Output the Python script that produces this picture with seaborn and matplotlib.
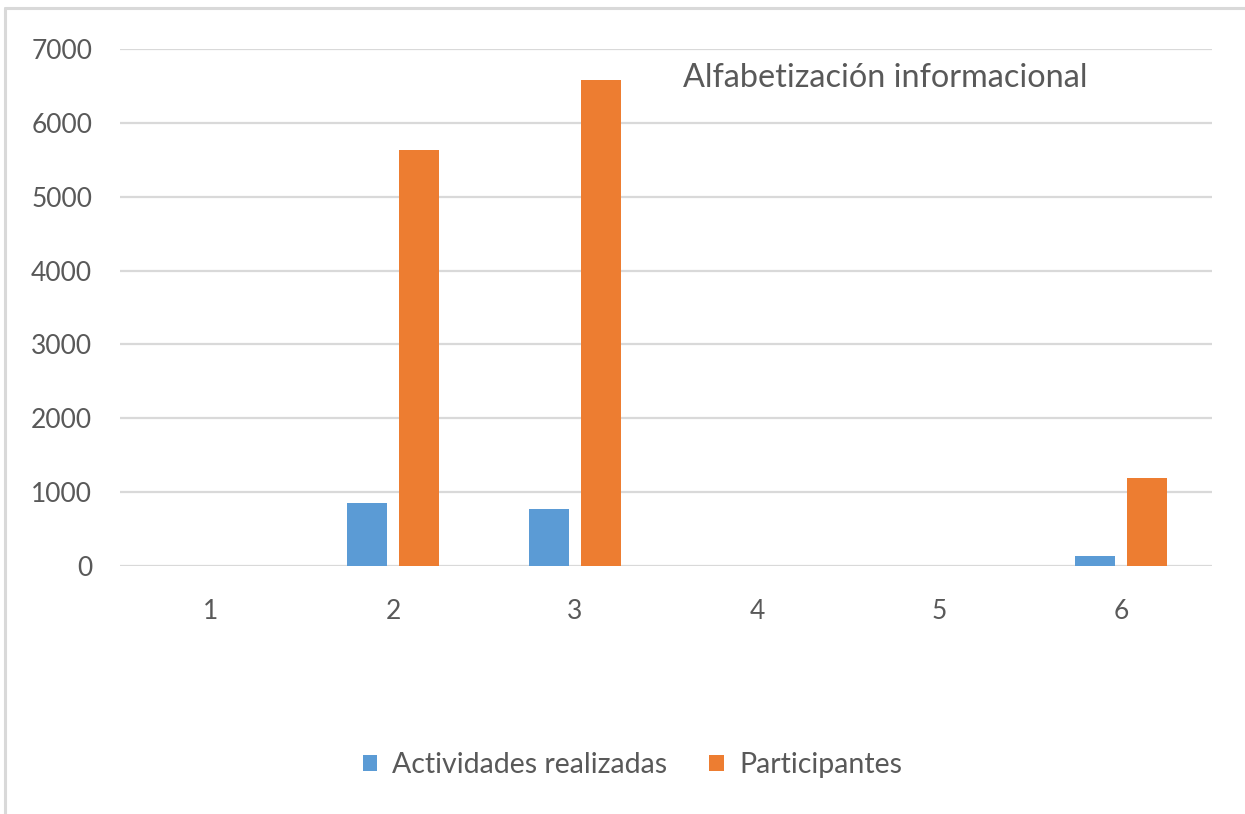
import matplotlib
matplotlib.use("Agg")
import matplotlib.pyplot as plt
from matplotlib.lines import Line2D
import seaborn as sns
import pandas as pd

categories = ["1", "2", "3", "4", "5", "6"]
actividades = [0, 849, 772, 0, 0, 140]
participantes = [0, 5632, 6584, 0, 0, 1187]
series_names = ["Actividades realizadas", "Participantes"]
yticks = [0, 1000, 2000, 3000, 4000, 5000, 6000, 7000]
title = "Alfabetización informacional"

df = pd.DataFrame({
    "cat": categories * 2,
    "val": actividades + participantes,
    "serie": [series_names[0]] * 6 + [series_names[1]] * 6,
})

sns.set_theme(style="white")
plt.rcParams["font.family"] = ["Lato", "DejaVu Sans"]

fig = plt.figure(figsize=(12.45, 8.14), dpi=100)
ax = fig.add_axes([120 / 1245, 1 - 566 / 814, (1212 - 120) / 1245, (566 - 49) / 814])

sns.barplot(data=df, x="cat", y="val", hue="serie", order=categories,
            hue_order=series_names, palette=["#5B9BD5", "#ED7D31"],
            width=0.57, gap=0.23, ax=ax, legend=True, saturation=1,
            edgecolor="none")

ax.set_xlim(-0.5, 5.5)
ax.set_ylim(0, 7000)
ax.set_yticks(yticks)
ax.set_yticklabels([str(t) for t in yticks])
ax.yaxis.grid(True, color="#d9d9d9", linewidth=1.6)
ax.set_axisbelow(True)
for s in ax.spines.values():
    s.set_visible(False)
ax.set_xlabel("")
ax.set_ylabel("")
ax.tick_params(axis="both", length=0, labelsize=19, labelcolor="#595959")
ax.tick_params(axis="x", pad=24)
ax.tick_params(axis="y", pad=20)

ax.text(0.516, 0.943, title, transform=ax.transAxes, fontsize=23.3,
        color="#595959", ha="left", va="center")

handles, labels = ax.get_legend_handles_labels()
ax.legend_.remove()
fig.legend(handles, labels, loc="center", bbox_to_anchor=(0.508, 1 - 765 / 814),
           ncol=2, frameon=False, fontsize=20.5, labelcolor="#595959",
           handlelength=0.5, handleheight=0.5, handletextpad=0.55,
           columnspacing=1.47)

fig.add_artist(Line2D([5 / 1245, 1], [1 - 8 / 814, 1 - 8 / 814],
                      color="#d9d9d9", linewidth=2.2, transform=fig.transFigure))
fig.add_artist(Line2D([5 / 1245, 5 / 1245], [0, 1 - 8 / 814],
                      color="#d9d9d9", linewidth=2.2, transform=fig.transFigure))

fig.savefig("out.png", dpi=100, facecolor="white")
